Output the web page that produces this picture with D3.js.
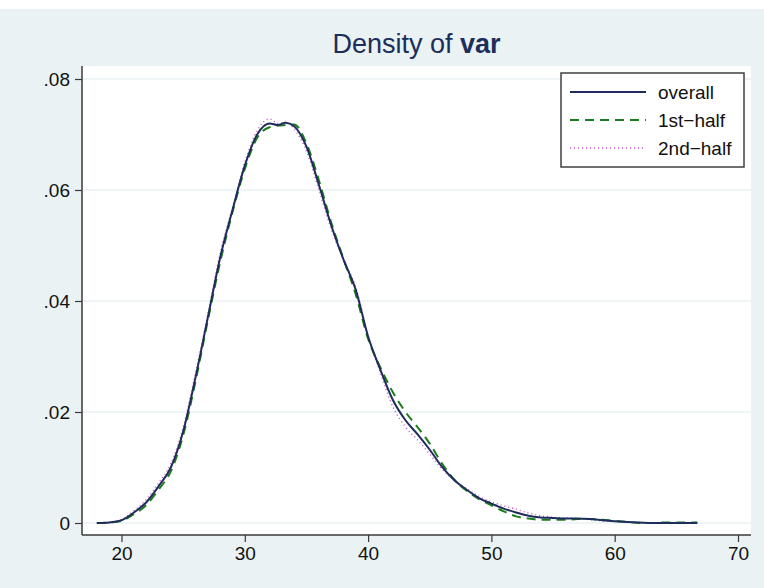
<!DOCTYPE html>
<html>
<head>
<meta charset="utf-8">
<script src="https://cdn.jsdelivr.net/npm/d3@7"></script>
<style>
  html, body { margin: 0; padding: 0; background: #ffffff; }
  svg { display: block; font-family: "Liberation Sans", Arial, Helvetica, sans-serif; }
</style>
</head>
<body>
<svg id="chart" width="764" height="588"></svg>
<script>
// Kernel density estimates of var: whole sample and the two halves
const xGrid = [18, 19, 20, 21, 22, 23, 24, 25, 26, 27, 28, 29, 30, 31, 32, 32.7, 33.3, 34, 35, 36, 37, 38, 39, 40, 41, 42, 43, 44, 45, 46, 47, 48, 49, 50, 51, 52, 53, 54, 55, 56, 57, 58, 59, 60, 61, 62, 63, 64, 65, 66, 66.7];

const overall = [0.0000, 0.0001, 0.0005, 0.0019, 0.0037, 0.0066, 0.0100, 0.0165, 0.0262, 0.0370, 0.0478, 0.0564, 0.0644, 0.0700, 0.0720, 0.0717, 0.0721, 0.0715, 0.0678, 0.0610, 0.0537, 0.0475, 0.0420, 0.0336, 0.0276, 0.0222, 0.0186, 0.0160, 0.0132, 0.0101, 0.0077, 0.0060, 0.0045, 0.0035, 0.0026, 0.0019, 0.0013, 0.0010, 0.0009, 0.0008, 0.0008, 0.0007, 0.0005, 0.0003, 0.0002, 0.0001, 0.0000, 0.0000, 0.0000, 0.0000, 0.0000];

const firstHalf = [0.0000, 0.0001, 0.0004, 0.0016, 0.0032, 0.0060, 0.0093, 0.0158, 0.0255, 0.0365, 0.0470, 0.0560, 0.0638, 0.0694, 0.0713, 0.0716, 0.0717, 0.0718, 0.0684, 0.0618, 0.0542, 0.0476, 0.0412, 0.0332, 0.0280, 0.0236, 0.0201, 0.0173, 0.0143, 0.0107, 0.0078, 0.0058, 0.0043, 0.0032, 0.0021, 0.0012, 0.0008, 0.0006, 0.0006, 0.0006, 0.0007, 0.0007, 0.0006, 0.0004, 0.0002, 0.0000, 0.0000, 0.0001, 0.0001, 0.0001, 0.0001];

const secondHalf = [0.0000, 0.0001, 0.0006, 0.0022, 0.0042, 0.0072, 0.0107, 0.0172, 0.0270, 0.0376, 0.0486, 0.0568, 0.0650, 0.0707, 0.0728, 0.0720, 0.0722, 0.0710, 0.0670, 0.0601, 0.0530, 0.0474, 0.0425, 0.0338, 0.0270, 0.0210, 0.0174, 0.0150, 0.0124, 0.0097, 0.0077, 0.0062, 0.0048, 0.0038, 0.0031, 0.0025, 0.0018, 0.0013, 0.0010, 0.0009, 0.0008, 0.0006, 0.0004, 0.0003, 0.0002, 0.0001, 0.0000, 0.0000, 0.0000, 0.0000, 0.0000];

const xTicks = [20, 30, 40, 50, 60, 70];
const yTicks = [0, 0.02, 0.04, 0.06, 0.08];
const yTickLabels = ["0", ".02", ".04", ".06", ".08"];

const seriesNames = ["overall", "1st\u2212half", "2nd\u2212half"];
const seriesData = [overall, firstHalf, secondHalf];
const seriesStyle = [
  { color: "#1f2d5c", width: 2.0, dash: null },
  { color: "#1a7d1a", width: 2.0, dash: "9,6" },
  { color: "#c94fc9", width: 1.4, dash: "1,3" }
];

const svg = d3.select("#chart");
const W = 764, H = 588;
const plot = { left: 82, right: 751, top: 66, bottom: 535 };
const bg = "#eaf2f3";

// graph region, with a thin white band along the top edge
svg.append("rect").attr("x", 0).attr("y", 0).attr("width", W).attr("height", H).attr("fill", "#ffffff");
svg.append("rect").attr("x", 0).attr("y", 9).attr("width", W).attr("height", H - 9).attr("fill", bg);

// scales
const x = d3.scaleLinear().domain([20, 70]).range([121.5, 738]);
const y = d3.scaleLinear().domain([0, 0.08]).range([523, 79]);

// plot region
svg.append("rect")
  .attr("x", plot.left).attr("y", plot.top)
  .attr("width", plot.right - plot.left).attr("height", plot.bottom - plot.top)
  .attr("fill", "#ffffff");

// horizontal grid lines
svg.append("g").selectAll("line").data(yTicks).join("line")
  .attr("x1", plot.left).attr("x2", plot.right)
  .attr("y1", d => y(d)).attr("y2", d => y(d))
  .attr("stroke", bg).attr("stroke-width", 1.5);

// y axis
const yAxis = d3.axisLeft(y).tickValues(yTicks)
  .tickFormat((d, i) => yTickLabels[i]).tickSize(7).tickPadding(5);
const gy = svg.append("g").attr("transform", `translate(${plot.left},0)`).call(yAxis);
gy.select(".domain").attr("d", `M0,${plot.top}V${plot.bottom}`).attr("stroke", "#3a3a3a").attr("stroke-width", 1.5);
gy.selectAll(".tick line").attr("stroke", "#3a3a3a").attr("stroke-width", 1.2);
gy.selectAll(".tick text").attr("font-size", 19).attr("fill", "#111").attr("font-family", "Liberation Sans, Arial, sans-serif");

// x axis
const xAxis = d3.axisBottom(x).tickValues(xTicks).tickFormat(d3.format("d")).tickSize(7).tickPadding(5);
const gx = svg.append("g").attr("transform", `translate(0,${plot.bottom})`).call(xAxis);
gx.select(".domain").attr("d", `M${plot.left},0H${plot.right}`).attr("stroke", "#3a3a3a").attr("stroke-width", 1.5);
gx.selectAll(".tick line").attr("stroke", "#3a3a3a").attr("stroke-width", 1.2);
gx.selectAll(".tick text").attr("font-size", 19).attr("fill", "#111").attr("font-family", "Liberation Sans, Arial, sans-serif");

// density curves
const line = d3.line().x(d => x(d[0])).y(d => y(d[1])).curve(d3.curveMonotoneX);
const order = [2, 1, 0];
order.forEach(i => {
  const pts = xGrid.map((xv, k) => [xv, seriesData[i][k]]);
  const s = seriesStyle[i];
  const p = svg.append("path").datum(pts)
    .attr("d", line).attr("fill", "none")
    .attr("stroke", s.color).attr("stroke-width", s.width)
    .attr("stroke-linejoin", "round");
  if (s.dash) p.attr("stroke-dasharray", s.dash);
});

// title
const title = svg.append("text")
  .attr("x", (plot.left + plot.right) / 2).attr("y", 53)
  .attr("text-anchor", "middle").attr("font-size", 27).attr("fill", "#1c2e5a");
title.append("tspan").text("Density of ");
title.append("tspan").attr("font-weight", "bold").text("var");

// legend
const lg = svg.append("g");
lg.append("rect").attr("x", 561).attr("y", 73).attr("width", 183).attr("height", 94)
  .attr("fill", "#ffffff").attr("stroke", "#404040").attr("stroke-width", 1.5);
const rowY = [92, 120, 148];
seriesNames.forEach((name, i) => {
  const s = seriesStyle[i];
  const l = lg.append("line").attr("x1", 570).attr("x2", 646)
    .attr("y1", rowY[i]).attr("y2", rowY[i])
    .attr("stroke", s.color).attr("stroke-width", s.width);
  if (s.dash) l.attr("stroke-dasharray", s.dash);
  lg.append("text").attr("x", 658).attr("y", rowY[i] + 7)
    .attr("font-size", 19).attr("fill", "#111").text(name);
});
</script>
</body>
</html>
